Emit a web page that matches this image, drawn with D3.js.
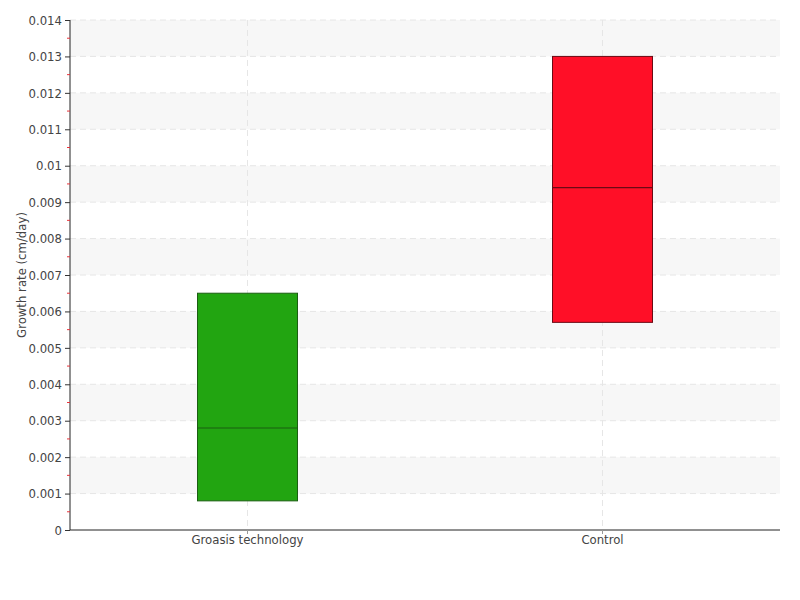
<!DOCTYPE html>
<html><head><meta charset="utf-8">
<script src="https://cdn.jsdelivr.net/npm/d3@7"></script>
<style>body{margin:0;background:#fff;} text{font-family:"DejaVu Sans Condensed","DejaVu Sans",sans-serif;font-stretch:condensed;}</style>
</head><body><svg id="c" width="800" height="600"></svg>
<script>
const categories = ["Groasis technology", "Control"];
const q1 = [0.0008, 0.0057];
const median = [0.0028, 0.0094];
const q3 = [0.0065, 0.013];
const fills = ["#22a511", "#ff0f27"];
const strokes = ["#1b5e12", "#6b0a14"];
const yTicks = [0,0.001,0.002,0.003,0.004,0.005,0.006,0.007,0.008,0.009,0.01,0.011,0.012,0.013,0.014];
const yTickLabels = ["0","0.001","0.002","0.003","0.004","0.005","0.006","0.007","0.008","0.009","0.01","0.011","0.012","0.013","0.014"];
const yTitle = "Growth rate (cm/day)";

const svg = d3.select("#c");
const L=70,R=780,T=20,B=530;
const x = d3.scaleBand().domain(categories).range([L,R]);
const y = d3.scaleLinear().domain([0,0.014]).range([B,T]);

// stripes
for(let i=1;i<yTicks.length-1;i+=2){
  svg.append("rect").attr("x",L).attr("width",R-L)
    .attr("y",y(yTicks[i+1])).attr("height",y(yTicks[i])-y(yTicks[i+1]))
    .attr("fill","#f7f7f7");
}
// horizontal grid
svg.append("g").selectAll("line").data(yTicks.slice(1)).join("line")
  .attr("x1",L).attr("x2",R).attr("y1",d=>y(d)).attr("y2",d=>y(d))
  .attr("stroke","#e6e6e6").attr("stroke-dasharray","6,4");
// vertical grid
svg.append("g").selectAll("line").data(categories).join("line")
  .attr("x1",d=>x(d)+x.bandwidth()/2).attr("x2",d=>x(d)+x.bandwidth()/2)
  .attr("y1",T).attr("y2",B).attr("stroke","#e6e6e6").attr("stroke-dasharray","6,4");

// boxes
const bw=100;
categories.forEach((c,i)=>{
  const cx=x(c)+x.bandwidth()/2;
  svg.append("rect").attr("x",cx-bw/2).attr("width",bw)
    .attr("y",y(q3[i])).attr("height",y(q1[i])-y(q3[i]))
    .attr("fill",fills[i]).attr("stroke",strokes[i]).attr("stroke-width",1);
  svg.append("line").attr("x1",cx-bw/2).attr("x2",cx+bw/2)
    .attr("y1",y(median[i])).attr("y2",y(median[i]))
    .attr("stroke",strokes[i]).attr("stroke-width",1.2);
});

// y axis
const ya = d3.axisLeft(y).tickValues(yTicks).tickFormat((d,i)=>yTickLabels[i]).tickSize(5).tickPadding(3);
const gy = svg.append("g").attr("transform",`translate(${L},0)`).call(ya);
gy.select(".domain").attr("stroke","#222").attr("d",`M0,${T}V${B}`);
gy.selectAll(".tick line").attr("stroke","#333");
gy.selectAll("text").attr("font-size",13).attr("fill","#444");
// minor ticks
const minor = yTicks.slice(0,-1).map(d=>d+0.0005);
svg.append("g").selectAll("line").data(minor).join("line")
  .attr("x1",L-3).attr("x2",L).attr("y1",d=>y(d)).attr("y2",d=>y(d))
  .attr("stroke","#e8333a");

// x axis
const xa = d3.axisBottom(x).tickSize(4).tickPadding(1);
const gx = svg.append("g").attr("transform",`translate(0,${B})`).call(xa);
gx.select(".domain").attr("stroke","#222").attr("d",`M${L},0H${R}`);
gx.selectAll(".tick line").attr("stroke","#999");
gx.selectAll("text").attr("font-size",13).attr("fill","#444");

svg.append("text").attr("transform",`translate(26,${(T+B)/2}) rotate(-90)`)
  .attr("text-anchor","middle").attr("font-size",13).attr("fill","#444").text(yTitle);
</script></body></html>
